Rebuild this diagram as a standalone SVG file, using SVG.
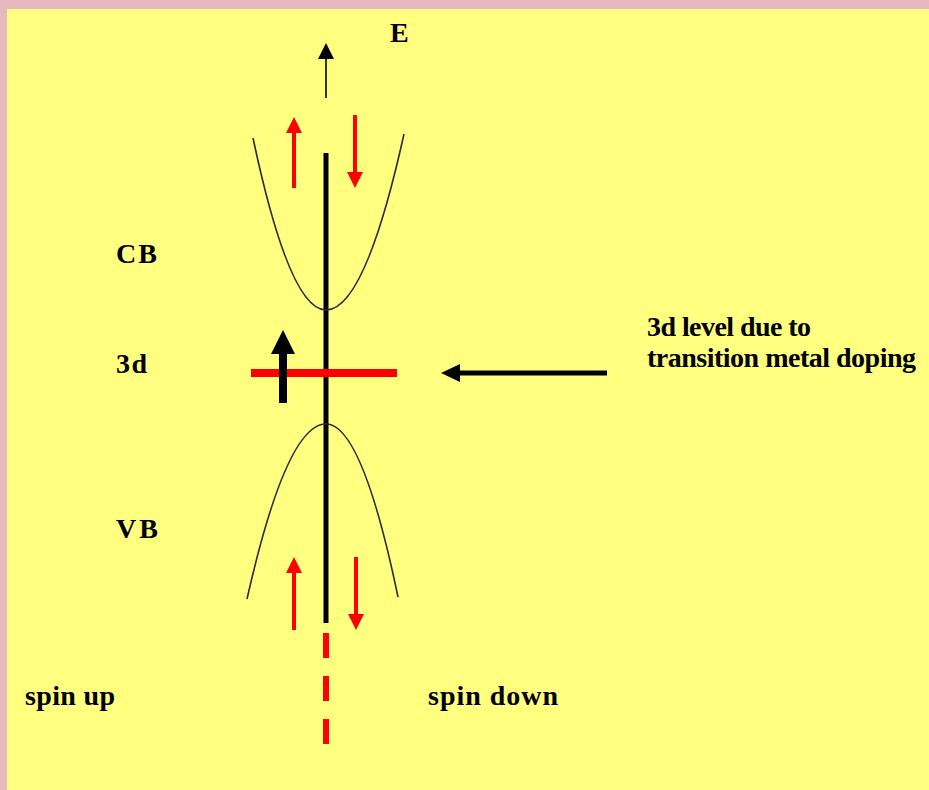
<svg xmlns="http://www.w3.org/2000/svg" width="929" height="790" viewBox="0 0 929 790">
<style>
.lbl{font-family:"Liberation Serif","Times New Roman",serif;font-weight:bold;font-size:28px;fill:#000}
.band{fill:none;stroke:#2a2a3a;stroke-width:1.6}
.red{stroke:#ff0000;fill:none}
.redf{fill:#ff0000}
.blk{stroke:#000;fill:none}
.blkf{fill:#000}
</style>
<rect x="0" y="0" width="929" height="790" fill="#e6b9c0"/>
<rect x="7" y="9" width="922" height="781" fill="#ffff80"/>

<g id="connectors">
  <!-- energy axis arrow -->
  <line class="blk" x1="326" y1="98" x2="326" y2="56" stroke-width="1.6"/>
  <polygon class="blkf" points="326,43 318,59 334,59"/>
  <!-- central axis -->
  <line class="blk" x1="326" y1="153" x2="326" y2="623" stroke-width="5"/>
  <line class="red" x1="326" y1="633" x2="326" y2="745" stroke-width="6" stroke-dasharray="25,18"/>
  <!-- 3d pointer arrow -->
  <line class="blk" x1="607" y1="373" x2="455" y2="373" stroke-width="5"/>
  <polygon class="blkf" points="441,373 460,364 460,382"/>
</g>

<g id="node-E"><text class="lbl" x="390" y="42" textLength="19">E</text></g>

<g id="node-CB">
  <path class="band" d="M253,138 Q289.5,310 326,310 Q365,310 404,134"/>
  <text class="lbl" x="116" y="263" textLength="41">CB</text>
  <line class="red" x1="294" y1="188" x2="294" y2="130" stroke-width="4"/>
  <polygon class="redf" points="294,117 286,133 302,133"/>
  <line class="red" x1="355" y1="115" x2="355" y2="175" stroke-width="4"/>
  <polygon class="redf" points="355,188 347,172 363,172"/>
</g>

<g id="node-3d">
  <line class="red" x1="251" y1="373" x2="397" y2="373" stroke-width="8"/>
  <line class="blk" x1="283" y1="403" x2="283" y2="352" stroke-width="8"/>
  <polygon class="blkf" points="283,330 271,354 295,354"/>
  <text class="lbl" x="116" y="373" textLength="31">3d</text>
</g>

<g id="node-VB">
  <path class="band" d="M247,599 Q286.5,424 326,424 Q362,424 398,597"/>
  <text class="lbl" x="116" y="538" textLength="42">VB</text>
  <line class="red" x1="294" y1="630" x2="294" y2="571" stroke-width="4"/>
  <polygon class="redf" points="294,557 286,573 302,573"/>
  <line class="red" x1="356" y1="557" x2="356" y2="616" stroke-width="4"/>
  <polygon class="redf" points="356,630 348,614 364,614"/>
</g>

<g id="node-doping">
  <text class="lbl" x="647" y="336" textLength="164">3d level due to</text>
  <text class="lbl" x="647" y="367" textLength="269">transition metal doping</text>
</g>

<g id="node-spinup"><text class="lbl" x="25" y="705" textLength="90">spin up</text></g>
<g id="node-spindown"><text class="lbl" x="428" y="705" textLength="130">spin down</text></g>
</svg>
